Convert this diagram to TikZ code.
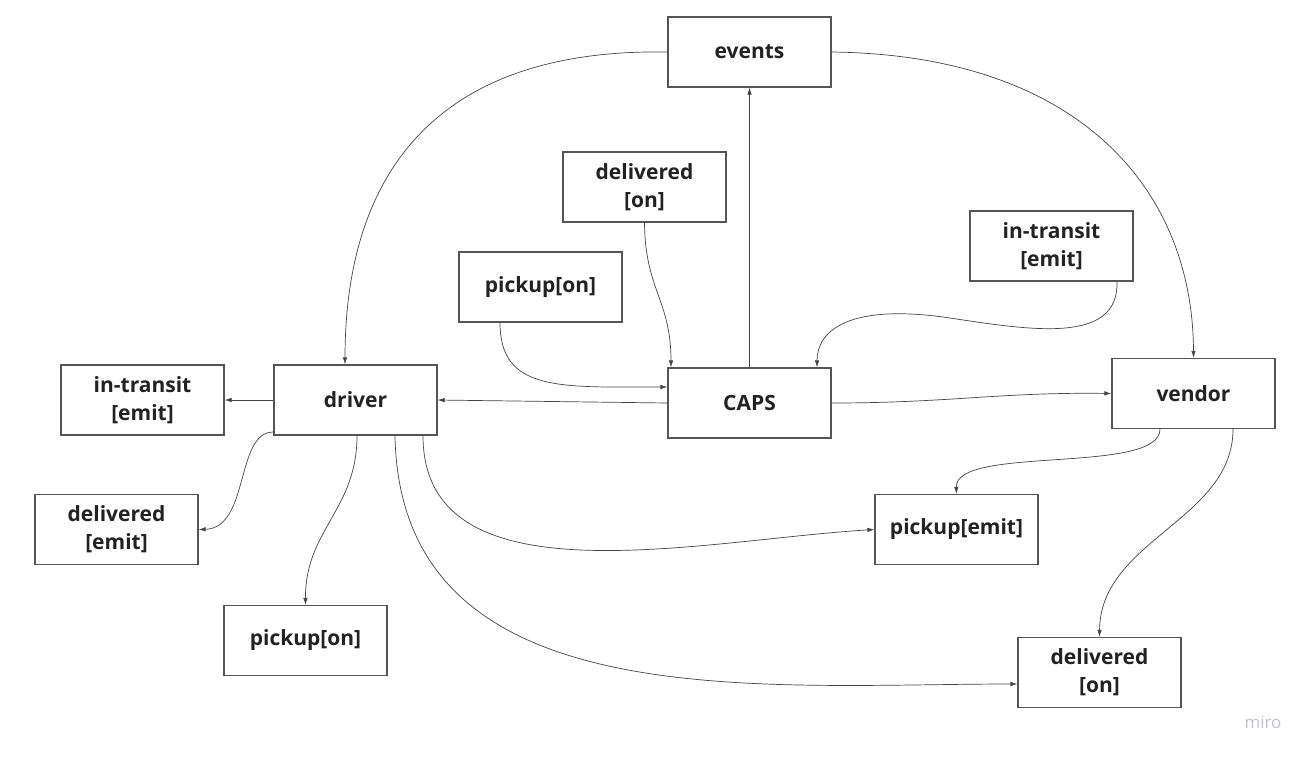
\documentclass[tikz,border=0pt]{standalone}
\usepackage{fontspec}
\setmainfont{Open Sans}
\usetikzlibrary{arrows.meta}
\definecolor{boxline}{HTML}{555555}
\definecolor{wire}{HTML}{444444}
\definecolor{ink}{HTML}{222222}
\definecolor{logo}{HTML}{BFC3CD}
\begin{document}
\begin{tikzpicture}[x=1pt,y=-1pt,
  box/.style={draw=boxline, line width=1.2pt, fill=white, minimum width=163pt, minimum height=70pt,
    align=center, font=\fontsize{21}{28}\selectfont\bfseries, text=ink, inner sep=2pt},
  wire/.style={draw=wire, line width=0.7pt, -{Latex[length=7pt,width=4.5pt]}}]
\useasboundingbox (0,0) rectangle (1314,761);

% main nodes
\node [box] (events) at (749.5,52) {events};
\node [box] (caps) at (749.5,403) {CAPS};
\node [box] (driver) at (355.5,400) {driver};
\node [box] (vendor) at (1193.5,393.5) {vendor};

% caps listeners
\node [box] (capsdelivered) at (644.5,187) {delivered\\{[on]}};
\node [box] (capspickup) at (540.5,287) {pickup[on]};
\node [box] (capstransit) at (1051.5,246) {in-transit\\{[emit]}};

% driver side
\node [box] (drvtransit) at (142.5,400) {in-transit\\{[emit]}};
\node [box] (drvdelivered) at (116.5,529.5) {delivered\\{[emit]}};
\node [box] (drvpickup) at (305.5,640.5) {pickup[on]};

% vendor side
\node [box] (vndpickup) at (956.5,529.5) {pickup[emit]};
\node [box] (vnddelivered) at (1099.5,672.5) {delivered\\{[on]}};

\node [text=logo, font=\fontsize{17}{20}\selectfont] (miro) at (1263,722) {miro};

% events
\draw [wire] (caps.north) -- (events.south);
\draw [wire] (events.west) .. controls (430,48) and (345,180) .. (driver.north -| 345,0);
\draw [wire] (events.east) .. controls (1080,55) and (1193,190) .. (vendor.north);

% into caps
\draw [wire] (capsdelivered.south) .. controls (645,290) and (671,300) .. (caps.north -| 671,0);
\draw [wire] (capspickup.south -| 500,0) .. controls (500,392) and (560,387) .. (caps.west |- 0,387);
\draw [wire] (capstransit.south -| 1117,0) .. controls (1119,345) and (1030,330) .. (950,318)
  .. controls (850,303) and (817,330) .. (caps.north -| 817,0);

% caps out
\draw [wire] (caps.west) -- (driver.east);
\draw [wire] (caps.east) .. controls (950,403) and (1000,392) .. (vendor.west);

% driver out
\draw [wire] (driver.west) -- (drvtransit.east);
\draw [wire] (driver.west |- 0,432) .. controls (235,432) and (250,528) .. (drvdelivered.east);
\draw [wire] (driver.south -| 357,0) .. controls (357,510) and (305,530) .. (drvpickup.north);
\draw [wire] (driver.south -| 423,0) .. controls (423,605) and (700,540) .. (vndpickup.west);
\draw [wire] (driver.south -| 395,0) .. controls (400,720) and (760,684) .. (vnddelivered.west |- 0,684);

% vendor out
\draw [wire] (vendor.south -| 1160,0) .. controls (1160,475) and (955,445) .. (vndpickup.north);
\draw [wire] (vendor.south -| 1233,0) .. controls (1233,520) and (1100,540) .. (vnddelivered.north);
\end{tikzpicture}
\end{document}
